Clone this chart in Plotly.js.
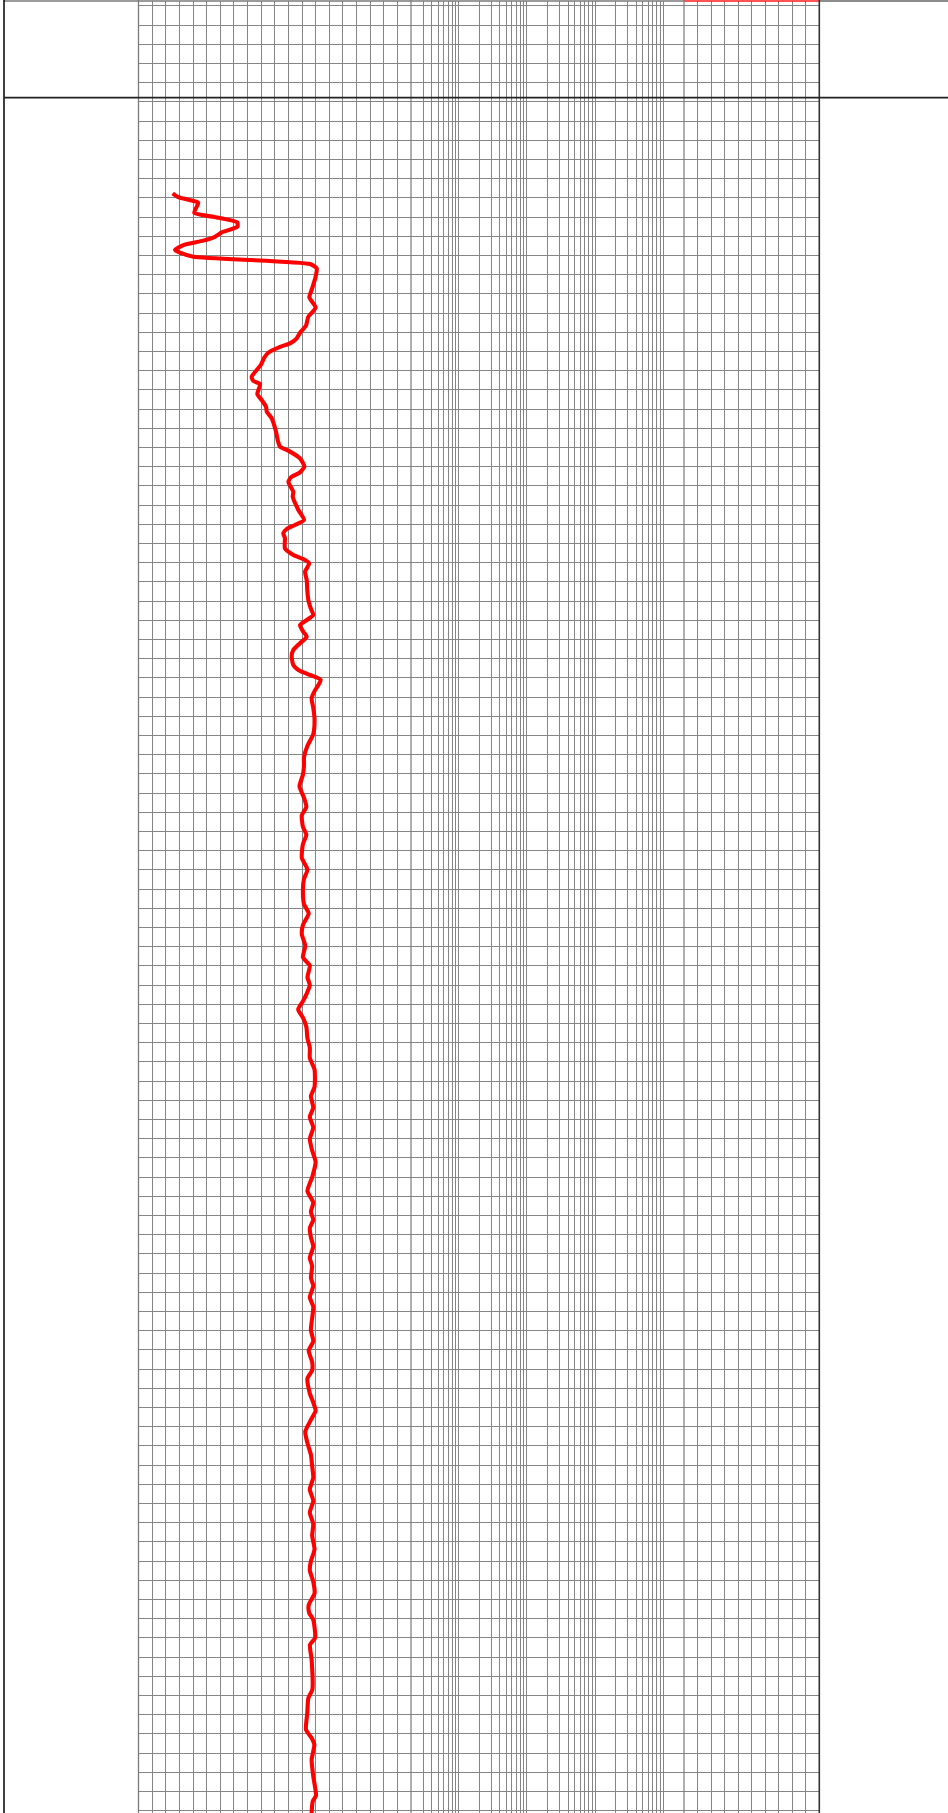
<!DOCTYPE html>
<html>
<head>
<meta charset="utf-8">
<script src="https://cdn.plot.ly/plotly-3.0.1.min.js"></script>
<style>
html,body{margin:0;padding:0;background:#ffffff;overflow:hidden;}
#chart{width:948px;height:1813px;}
</style>
</head>
<body>
<div id="chart"></div>
<script>
// ---------------- DATA ----------------
// Measured depth (m) of each gamma-ray sample
const depth = [
  1509.77,1509.97,1510.17,1510.26,1510.78,1511.02,1511.28,1511.51,1511.80,1512.03,
  1512.23,1512.46,1512.72,1512.86,1513.07,1513.45,1513.67,1514.11,1514.80,1515.18,
  1515.72,1516.19,1516.66,1517.03,1517.32,1517.58,1517.76,1518.07,1518.33,1518.71,
  1519.32,1519.54,1519.70,1520.22,1520.53,1520.88,1521.14,1521.48,1522.18,1522.61,
  1522.96,1523.22,1523.57,1524.00,1524.30,1524.53,1524.79,1525.31,1525.57,1526.26,
  1526.78,1527.04,1527.25,1527.47,1527.73,1528.26,1528.60,1528.86,1529.04,1529.47,
  1529.91,1530.43,1530.95,1531.38,1531.73,1531.99,1532.25,1532.60,1532.86,1533.20,
  1533.55,1533.90,1534.33,1534.59,1534.85,1535.11,1535.38,1535.64,1536.07,1536.56,
  1537.16,1537.94,1538.54,1539.14,1539.57,1540.05,1540.65,1541.25,1541.73,1542.16,
  1542.76,1543.18,1543.66,1544.38,1544.99,1545.47,1546.07,1546.79,1547.28,1547.88,
  1548.36,1548.96,1549.56,1549.99,1550.59,1551.01,1551.49,1551.85,1552.27,1552.70,
  1553.18,1553.78,1554.26,1554.80,1555.41,1556.31,1556.79,1557.39,1557.87,1558.42,
  1559.02,1559.62,1560.22,1561.01,1561.73,1562.33,1562.81,1563.23,1563.66,1564.14,
  1564.62,1565.22,1565.64,1566.25,1566.67,1567.27,1567.75,1568.35,1568.96,1569.56,
  1570.04,1570.64,1571.06,1571.49,1572.27,1572.75,1573.17,1573.65,1574.26,1574.86,
  1575.46,1576.06,1576.66,1577.27,1577.87,1578.47,1579.07,1579.68,1580.40,1581.00,
  1581.48,1582.08,1582.69,1583.29,1583.71,1584.06,1585.01,1585.36,1586.14,1587.70,
  1588.14,1588.92,1589.79,1590.22,1590.57,1591.35,1592.21,1593.22,1593.52,1594.13
];
// Gamma ray (API) read at each depth
const gammaRay = [
  18.8,21.9,30.2,32.9,30.7,43.0,54.4,54.4,45.8,42.1,
  35.7,24.7,20.1,22.8,30.2,94.4,98.1,97.5,95.3,94.0,
  97.5,93.5,92.2,88.9,87.1,83.4,77.9,71.4,69.2,67.3,
  62.3,63.2,66.9,65.4,67.8,70.2,70.6,73.3,75.7,76.6,
  77.9,83.4,88.9,91.3,88.9,84.3,82.5,85.2,84.9,88.0,
  91.1,86.1,81.6,79.7,80.6,80.6,85.2,91.7,94.0,91.7,
  92.6,92.9,93.5,94.8,96.2,92.6,88.9,90.7,92.6,88.9,
  85.2,84.3,85.2,88.0,94.4,100.3,99.0,97.2,95.3,96.2,
  96.9,96.2,93.0,91.1,91.1,90.5,88.6,91.1,92.4,89.9,
  90.5,92.4,90.5,89.9,93.0,91.1,90.5,91.1,93.7,90.5,
  89.9,91.8,90.5,94.3,93.0,94.3,92.4,90.5,87.9,90.5,
  92.4,93.0,94.3,94.3,96.9,96.9,94.9,96.2,94.3,96.2,
  94.3,95.6,97.5,95.6,93.0,96.2,94.9,96.2,94.3,94.9,
  96.2,94.3,95.6,94.9,96.2,94.3,96.2,95.6,94.9,96.2,
  93.7,95.6,95.6,93.0,94.3,96.2,97.5,94.9,91.8,93.0,
  94.9,95.6,96.2,94.3,96.2,94.3,96.2,95.6,96.9,94.9,
  94.3,96.2,96.9,93.7,94.0,96.2,97.2,94.4,95.3,95.7,
  93.5,92.9,92.2,95.3,96.8,95.3,96.2,97.7,95.9,95.3
];
// Formation top marker depth (m)
const formationTops = [1504.78];

// Track scales
const grRange = [0, 150];          // API, 20 divisions
const grStep = 7.5;
const resRange = [0.2, 2000];      // ohm.m, logarithmic
const nphiRange = [45, -15];       // porosity units, 10 divisions
const nphiStep = 6;
const depthRange = [1594.125, 1499.75]; // reversed: depth increases downwards
const depthStep = 1;
const depthTick0 = 1500;

// ---------------- LAYOUT ----------------
const W = 948, H = 1813;
const px = v => v / W;
const edges = {left: 4, gr: 138.5, res: 411, nphi: 684, right: 819.3};
const gridColor = '#858585';

const baseAxis = {
  showticklabels: false, ticks: '', zeroline: false, showline: false,
  showgrid: true, gridcolor: gridColor, gridwidth: 1, fixedrange: true
};

const traces = [
  {x: gammaRay, y: depth, xaxis: 'x', yaxis: 'y', type: 'scatter', mode: 'lines',
   line: {color: '#ff0000', width: 4.1, shape: 'spline', smoothing: 0.55},
   hoverinfo: 'skip', name: 'GR'},
  {x: [], y: [], xaxis: 'x2', yaxis: 'y', type: 'scatter', mode: 'lines', hoverinfo: 'skip'},
  {x: [], y: [], xaxis: 'x3', yaxis: 'y', type: 'scatter', mode: 'lines', hoverinfo: 'skip'}
];

function vline(x, color, width) {
  return {type: 'line', xref: 'paper', yref: 'paper', x0: px(x), x1: px(x),
          y0: 0, y1: 1 + 1 / 1812, line: {color: color, width: width}, layer: 'above'};
}
function topLine(xa, xb, color, width) {
  return {type: 'line', xref: 'paper', yref: 'paper', x0: px(xa), x1: px(xb),
          y0: 1, y1: 1, line: {color: color, width: width}, layer: 'above'};
}

const shapes = [
  topLine(edges.left, edges.nphi, '#7a7a7a', 1.3),
  topLine(edges.nphi, edges.right, '#ff1a1a', 1.6),
  topLine(edges.right, W, '#666666', 1.3),
  vline(edges.left, '#000000', 1.5),
  vline(edges.gr, '#7a7a7a', 1.3),
  vline(edges.res, '#7a7a7a', 1.2),
  vline(edges.nphi, '#7a7a7a', 1.2),
  vline(edges.right, '#333333', 1.6)
];
formationTops.forEach(d => shapes.push({
  type: 'line', xref: 'paper', yref: 'y', x0: px(edges.left), x1: 1, y0: d, y1: d,
  line: {color: '#222222', width: 1.6}, layer: 'above'
}));

const layout = {
  width: W, height: H,
  margin: {l: 0, r: 0, t: 1, b: 0, pad: 0},
  paper_bgcolor: '#ffffff', plot_bgcolor: '#ffffff',
  showlegend: false,
  xaxis: Object.assign({}, baseAxis, {domain: [px(edges.gr), px(edges.res)], range: grRange,
          tick0: 0, dtick: grStep, anchor: 'y'}),
  xaxis2: Object.assign({}, baseAxis, {type: 'log', domain: [px(edges.res), px(edges.nphi)],
          range: [Math.log10(resRange[0]), Math.log10(resRange[1])], dtick: 'D1', anchor: 'y'}),
  xaxis3: Object.assign({}, baseAxis, {domain: [px(edges.nphi), px(edges.right)], range: nphiRange,
          tick0: nphiRange[1], dtick: nphiStep, anchor: 'y'}),
  yaxis: Object.assign({}, baseAxis, {domain: [0, 1], range: depthRange,
          tick0: depthTick0, dtick: depthStep, anchor: 'x'}),
  shapes: shapes
};

Plotly.newPlot('chart', traces, layout, {staticPlot: true, displayModeBar: false});
</script>
</body>
</html>
